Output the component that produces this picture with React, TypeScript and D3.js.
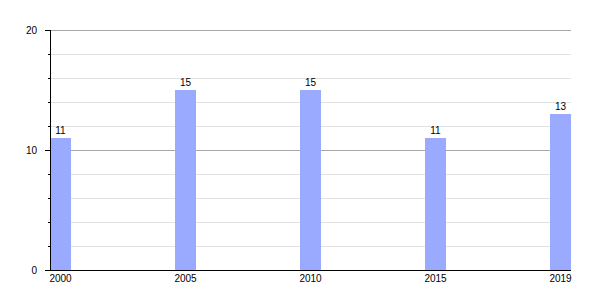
import React from "react";
import * as d3 from "d3";

const categories = ["2000", "2005", "2010", "2015", "2019"];
const values = [11, 15, 15, 11, 13];
const majorTicks = [0, 10, 20];
const minorTicks = [2, 4, 6, 8, 12, 14, 16, 18];

export default function App() {
  const W = 600, H = 300;
  const left = 50, right = 571, top = 30, bottom = 270;
  const x = d3.scaleBand<string>().domain(categories).range([left, right]).paddingInner(0.832).paddingOuter(0);
  const y = d3.scaleLinear().domain([0, 20]).range([bottom, top]);
  const font = "Liberation Sans, Arial, sans-serif";
  return (
    <svg width={W} height={H} style={{ position: "absolute", left: 0, top: 0 }} fontFamily={font}>
      <rect width={W} height={H} fill="#fff" />
      {minorTicks.map((t) => (
        <g key={"m" + t}>
          <line x1={left} x2={right} y1={Math.round(y(t)) + 0.5} y2={Math.round(y(t)) + 0.5} stroke="#e2e2e2" />
          <line x1={left - 2} x2={left} y1={Math.round(y(t)) + 0.5} y2={Math.round(y(t)) + 0.5} stroke="#000" />
        </g>
      ))}
      {majorTicks.filter((t) => t !== 0).map((t) => (
        <line key={"g" + t} x1={left} x2={right} y1={Math.round(y(t)) + 0.5} y2={Math.round(y(t)) + 0.5} stroke="#a8a8a8" />
      ))}
      {categories.map((c, i) => (
        <g key={c}>
          <rect x={x(c)!} y={y(values[i])} width={x.bandwidth()} height={bottom - y(values[i])} fill="#99aaff" />
          <text x={x(c)! + x.bandwidth() / 2} y={y(values[i]) - 4} fontSize={10} textAnchor="middle" fill="#000">
            {values[i]}
          </text>
          <text x={x(c)! + x.bandwidth() / 2} y={282} fontSize={10} textAnchor="middle" fill="#000">
            {c}
          </text>
        </g>
      ))}
      {majorTicks.map((t) => (
        <g key={"t" + t}>
          <line x1={left - 5} x2={left} y1={Math.round(y(t)) + 0.5} y2={Math.round(y(t)) + 0.5} stroke="#000" />
          <text x={37} y={y(t) + 3.5} fontSize={10} textAnchor="end" fill="#000">
            {t}
          </text>
        </g>
      ))}
      <line x1={left + 0.5} x2={left + 0.5} y1={top} y2={bottom + 0.5} stroke="#000" />
      <line x1={left} x2={right} y1={bottom + 0.5} y2={bottom + 0.5} stroke="#000" />
    </svg>
  );
}
